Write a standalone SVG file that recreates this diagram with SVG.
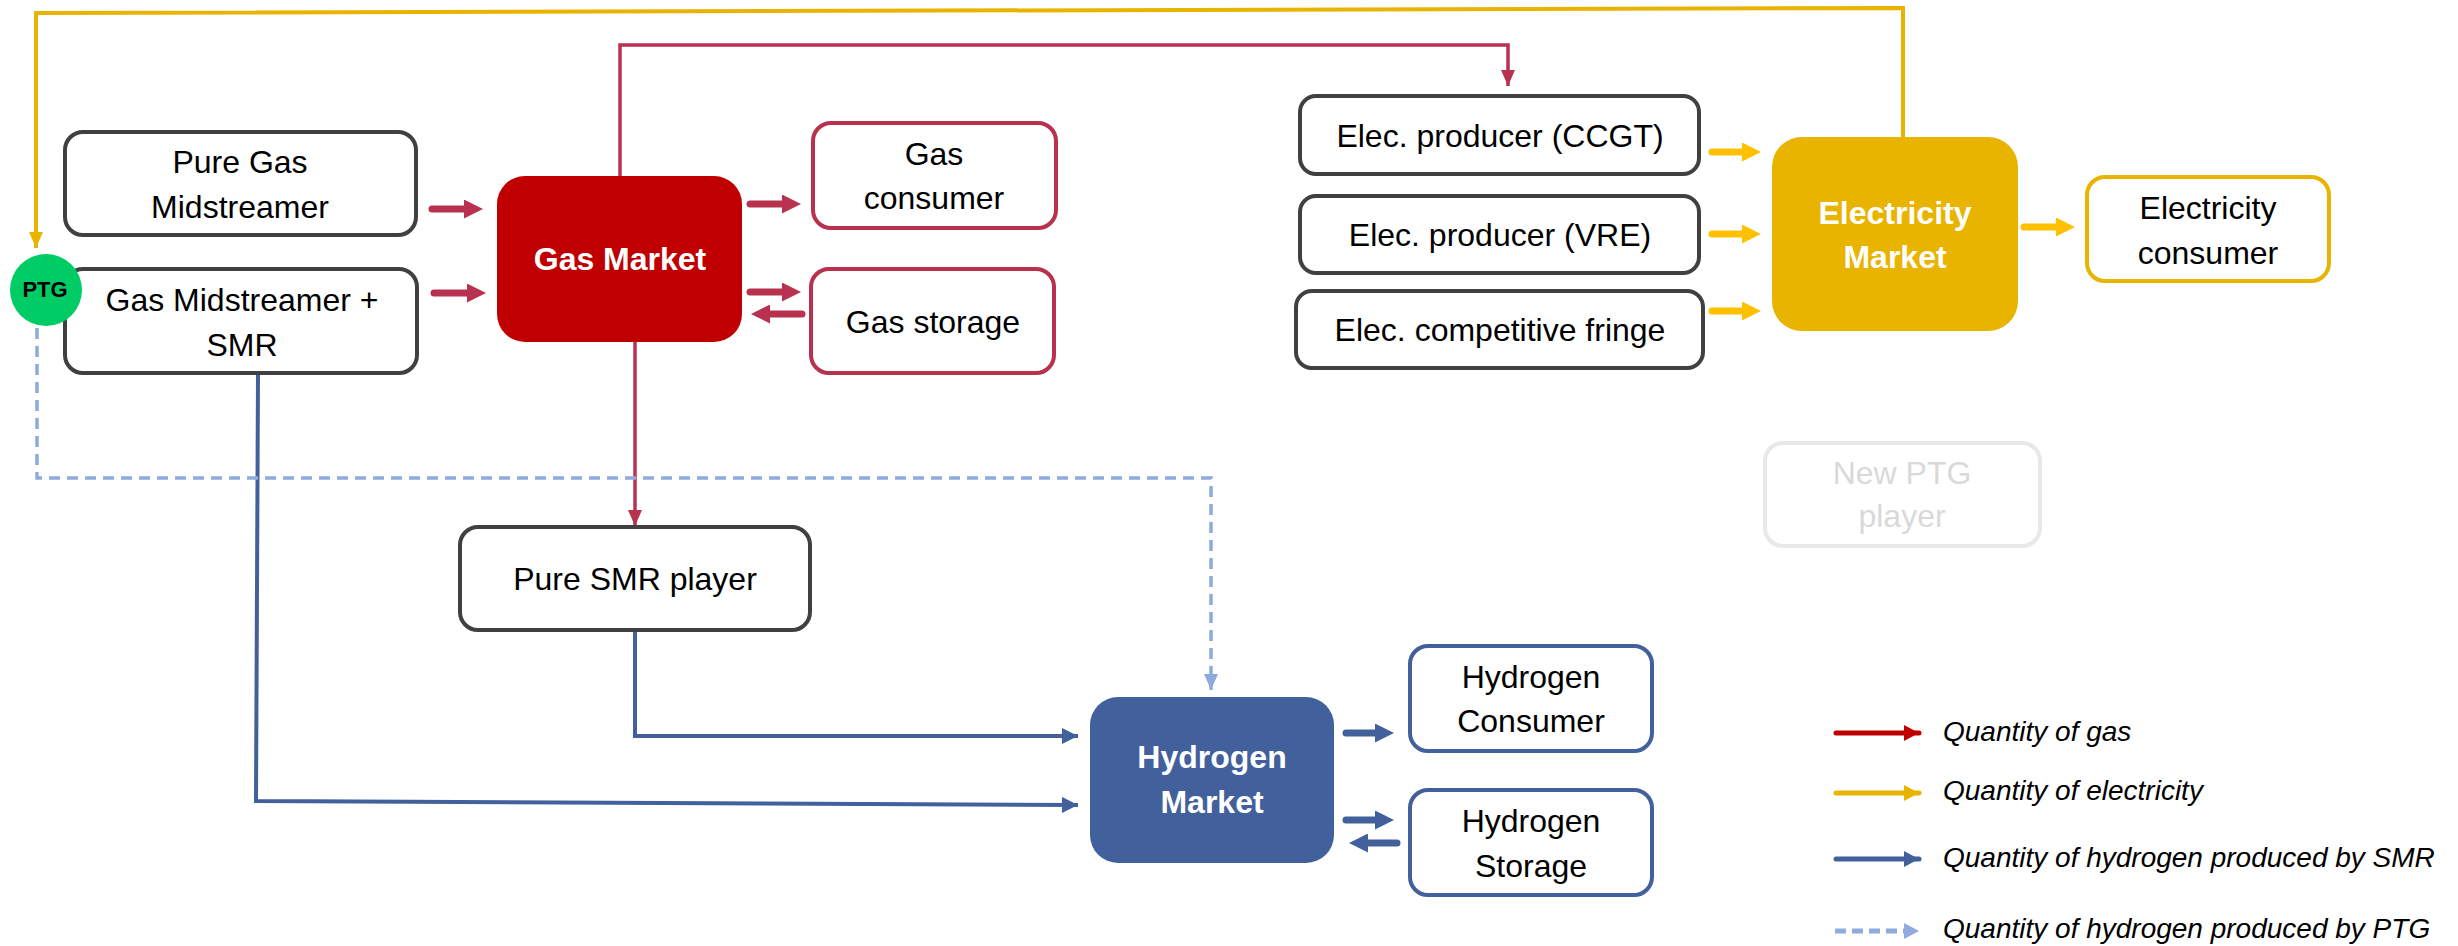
<svg xmlns="http://www.w3.org/2000/svg" width="2458" height="946" viewBox="0 0 2458 946">
<style>
text{font-family:"Liberation Sans",Arial,sans-serif;font-size:32px;text-anchor:middle;fill:#000}
.wb{fill:#fff;font-weight:bold}
.ghost{fill:#D9D9D9}
.box{fill:#fff;stroke-width:4}
.k{stroke:#404040}
.r{stroke:#B83250}
.y{stroke:#E8B400}
.b{stroke:#41609C}
.thin{fill:none;stroke-width:4}
.thinr{fill:none;stroke-width:3.5;stroke:#B83250}
.thick{fill:none;stroke-width:7;stroke-linecap:round}
.leg{font-style:italic;font-size:28px;text-anchor:start}
</style>
<defs>
<marker id="hr" markerUnits="userSpaceOnUse" markerWidth="16" markerHeight="14" refX="16" refY="7" orient="auto"><path d="M0,0L16,7L0,14z" fill="#B83250"/></marker>
<marker id="hy" markerUnits="userSpaceOnUse" markerWidth="16" markerHeight="14" refX="16" refY="7" orient="auto"><path d="M0,0L16,7L0,14z" fill="#E8B400"/></marker>
<marker id="hb" markerUnits="userSpaceOnUse" markerWidth="16" markerHeight="16" refX="16" refY="8" orient="auto"><path d="M0,0L16,8L0,16z" fill="#41609C"/></marker>
<marker id="hl" markerUnits="userSpaceOnUse" markerWidth="16" markerHeight="14" refX="16" refY="7" orient="auto"><path d="M0,0L16,7L0,14z" fill="#8FAADC"/></marker>
<marker id="Tr" markerUnits="userSpaceOnUse" markerWidth="19" markerHeight="19" refX="1" refY="9.5" orient="auto"><path d="M0,0L19,9.5L0,19z" fill="#B83250"/></marker>
<marker id="Ty" markerUnits="userSpaceOnUse" markerWidth="19" markerHeight="19" refX="1" refY="9.5" orient="auto"><path d="M0,0L19,9.5L0,19z" fill="#FFC000"/></marker>
<marker id="Tb" markerUnits="userSpaceOnUse" markerWidth="19" markerHeight="19" refX="1" refY="9.5" orient="auto"><path d="M0,0L19,9.5L0,19z" fill="#41609C"/></marker>
<marker id="Lr" markerUnits="userSpaceOnUse" markerWidth="15" markerHeight="16" refX="15" refY="8" orient="auto"><path d="M0,0L15,8L0,16z" fill="#C00000"/></marker>
<marker id="Ly" markerUnits="userSpaceOnUse" markerWidth="15" markerHeight="16" refX="15" refY="8" orient="auto"><path d="M0,0L15,8L0,16z" fill="#E8B400"/></marker>
<marker id="Lb" markerUnits="userSpaceOnUse" markerWidth="15" markerHeight="16" refX="15" refY="8" orient="auto"><path d="M0,0L15,8L0,16z" fill="#41609C"/></marker>
<marker id="Ll" markerUnits="userSpaceOnUse" markerWidth="15" markerHeight="16" refX="15" refY="8" orient="auto"><path d="M0,0L15,8L0,16z" fill="#8FAADC"/></marker>
</defs>
<rect width="2458" height="946" fill="#fff"/>

<g id="connectors">
<path class="thin y" d="M1903,137L1903,8L36,13L36,248" marker-end="url(#hy)"/>
<path class="thinr" d="M620,176L620,45L1508,45L1508,86" marker-end="url(#hr)"/>
<path class="thinr" d="M635,342L635,526" marker-end="url(#hr)"/>
<path class="thin b" d="M635,630L635,736L1078,736" marker-end="url(#hb)"/>
<path class="thin b" d="M258,373L256,801L1078,805" marker-end="url(#hb)"/>
<path fill="none" stroke="#8FAADC" stroke-width="3.5" stroke-dasharray="11,7" d="M37,328L37,478L1211,478L1211,690" marker-end="url(#hl)"/>
<path class="thick r" d="M432,209L465,209" marker-end="url(#Tr)"/>
<path class="thick r" d="M434,293L468,293" marker-end="url(#Tr)"/>
<path class="thick r" d="M750,204L783,204" marker-end="url(#Tr)"/>
<path class="thick r" d="M750,292L783,292" marker-end="url(#Tr)"/>
<path class="thick r" d="M802,314L769,314" marker-end="url(#Tr)"/>
<path class="thick" stroke="#FFC000" d="M1712,152L1743,152" marker-end="url(#Ty)"/>
<path class="thick" stroke="#FFC000" d="M1712,234L1743,234" marker-end="url(#Ty)"/>
<path class="thick" stroke="#FFC000" d="M1712,311L1743,311" marker-end="url(#Ty)"/>
<path class="thick" stroke="#FFC000" d="M2024,227L2057,227" marker-end="url(#Ty)"/>
<path class="thick b" d="M1346,733L1376,733" marker-end="url(#Tb)"/>
<path class="thick b" d="M1346,820L1376,820" marker-end="url(#Tb)"/>
<path class="thick b" d="M1397,843L1367,843" marker-end="url(#Tb)"/>
</g>

<g id="pure-gas-midstreamer"><rect class="box k" x="65" y="132" width="351" height="103" rx="18"/><text x="240" y="173">Pure Gas</text><text x="240" y="218">Midstreamer</text></g>
<g id="gas-midstreamer-smr"><rect class="box k" x="65" y="269" width="352" height="104" rx="18"/><text x="242" y="311">Gas Midstreamer +</text><text x="242" y="356">SMR</text></g>
<g id="ptg"><circle cx="46" cy="290" r="36" fill="#00CC66"/><text x="45" y="297" style="font-size:22px;font-weight:bold">PTG</text></g>
<g id="gas-market"><rect x="497" y="176" width="245" height="166" rx="28" fill="#C00000"/><text class="wb" x="620" y="270">Gas Market</text></g>
<g id="gas-consumer"><rect class="box r" x="813" y="123" width="243" height="105" rx="18"/><text x="934" y="165">Gas</text><text x="934" y="209">consumer</text></g>
<g id="gas-storage"><rect class="box r" x="811" y="269" width="243" height="104" rx="18"/><text x="933" y="333">Gas storage</text></g>
<g id="elec-ccgt"><rect class="box k" x="1300" y="96" width="399" height="78" rx="16"/><text x="1500" y="147">Elec. producer (CCGT)</text></g>
<g id="elec-vre"><rect class="box k" x="1300" y="196" width="399" height="77" rx="16"/><text x="1500" y="246">Elec. producer (VRE)</text></g>
<g id="elec-fringe"><rect class="box k" x="1296" y="291" width="407" height="77" rx="16"/><text x="1500" y="341">Elec. competitive fringe</text></g>
<g id="electricity-market"><rect x="1772" y="137" width="246" height="194" rx="30" fill="#E8B400"/><text class="wb" x="1895" y="224">Electricity</text><text class="wb" x="1895" y="268">Market</text></g>
<g id="electricity-consumer"><rect class="box y" x="2087" y="177" width="242" height="104" rx="18"/><text x="2208" y="219">Electricity</text><text x="2208" y="264">consumer</text></g>
<g id="new-ptg-player"><rect class="box" stroke="#E8E8E8" x="1765" y="443" width="275" height="103" rx="18"/><text class="ghost" x="1902" y="484">New PTG</text><text class="ghost" x="1902" y="527">player</text></g>
<g id="pure-smr-player"><rect class="box k" x="460" y="527" width="350" height="103" rx="18"/><text x="635" y="590">Pure SMR player</text></g>
<g id="hydrogen-market"><rect x="1090" y="697" width="244" height="166" rx="28" fill="#41609C"/><text class="wb" x="1212" y="768">Hydrogen</text><text class="wb" x="1212" y="813">Market</text></g>
<g id="hydrogen-consumer"><rect class="box b" x="1410" y="646" width="242" height="105" rx="18"/><text x="1531" y="688">Hydrogen</text><text x="1531" y="732">Consumer</text></g>
<g id="hydrogen-storage"><rect class="box b" x="1410" y="790" width="242" height="105" rx="18"/><text x="1531" y="832">Hydrogen</text><text x="1531" y="877">Storage</text></g>

<g id="legend">
<path fill="none" stroke="#C00000" stroke-width="5" stroke-linecap="round" d="M1836,733L1919,733" marker-end="url(#Lr)"/>
<path fill="none" stroke="#E8B400" stroke-width="5" stroke-linecap="round" d="M1836,793L1919,793" marker-end="url(#Ly)"/>
<path fill="none" stroke="#41609C" stroke-width="5" stroke-linecap="round" d="M1836,859L1919,859" marker-end="url(#Lb)"/>
<path fill="none" stroke="#8FAADC" stroke-width="5" stroke-dasharray="11,6" d="M1835,931L1919,931" marker-end="url(#Ll)"/>
<text class="leg" x="1943" y="741">Quantity of gas</text>
<text class="leg" x="1943" y="800">Quantity of electricity</text>
<text class="leg" x="1943" y="867">Quantity of hydrogen produced by SMR</text>
<text class="leg" x="1943" y="938">Quantity of hydrogen produced by PTG</text>
</g>
</svg>
